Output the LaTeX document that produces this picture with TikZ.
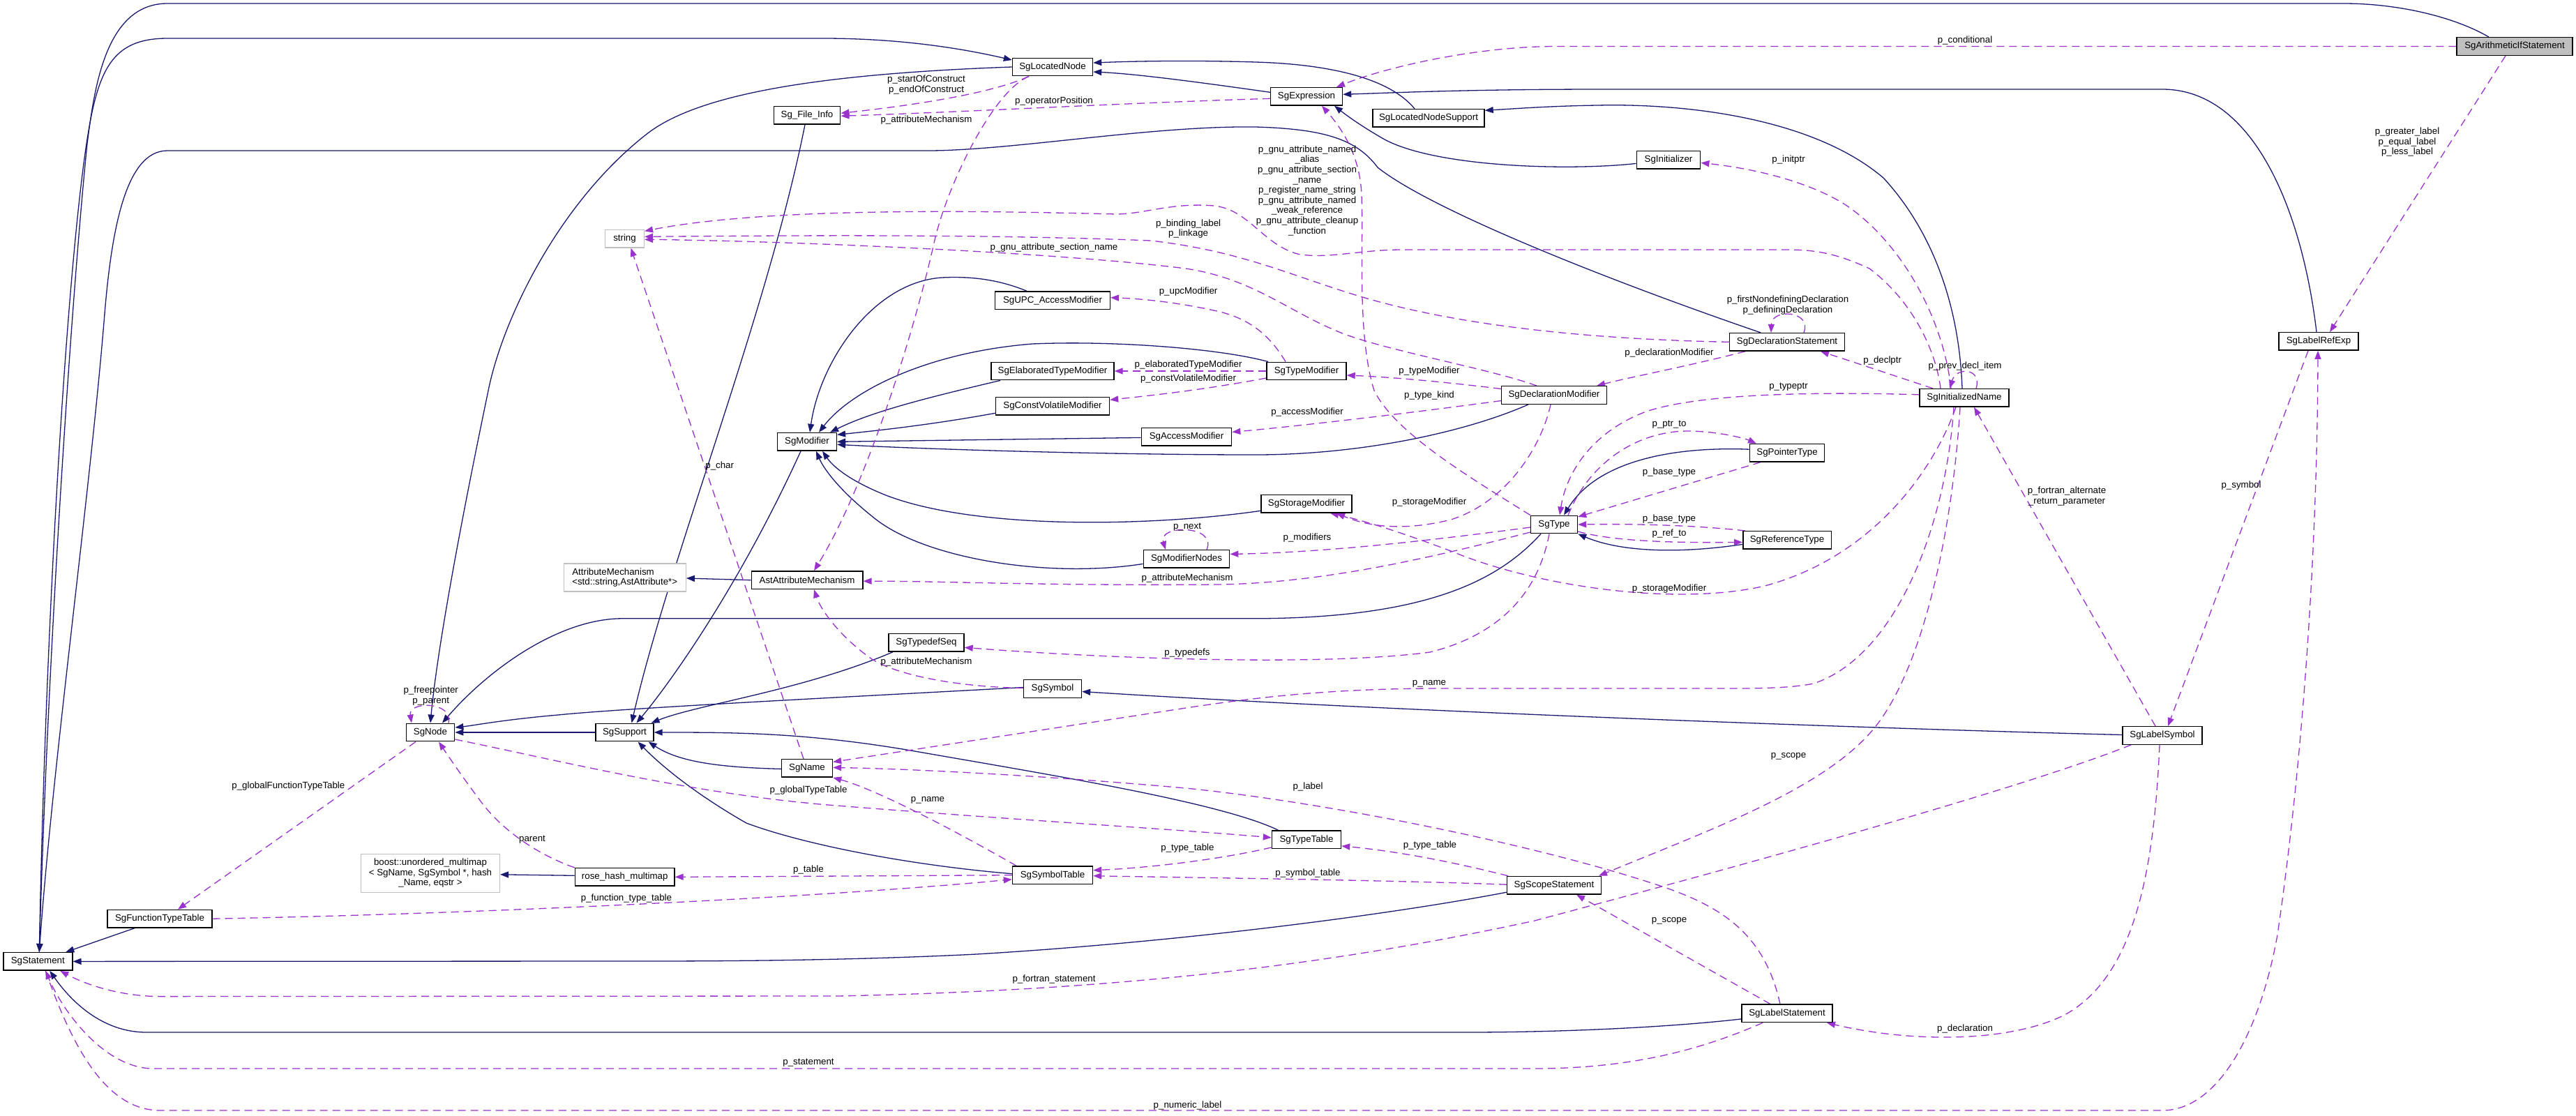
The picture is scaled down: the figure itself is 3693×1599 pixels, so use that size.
\documentclass[tikz,border=0pt]{standalone}
\usepackage{fontspec}
\setmainfont{Liberation Sans}
\usetikzlibrary{arrows.meta,backgrounds}
\definecolor{navyc}{RGB}{25,25,112}
\definecolor{orchidc}{RGB}{154,50,205}
\newcommand\dfont{\fontsize{13.3}{14.6}\selectfont}
\tikzset{
  cls/.style={draw=black, line width=1.4pt, fill=white, font=\dfont, minimum height=25.5pt, inner xsep=3pt, inner ysep=1pt},
  extcls/.style={cls, draw=gray!50},
  inh/.style={draw=navyc, line width=1.3pt, -{Triangle[length=12pt,width=9pt]}},
  uses/.style={draw=orchidc, line width=1.3pt, dash pattern=on 11pt off 7pt, -{Triangle[length=12pt,width=9pt]}},
  lbl/.style={font=\dfont, inner sep=0pt, align=center},
}
\begin{document}
\begin{tikzpicture}[x=1pt,y=-1pt]
\useasboundingbox (0,0) rectangle (3693,1599);
% ---------------- nodes ----------------
\node[cls, fill=gray!50, minimum width=166pt] (AIS) at (3605,66.5) {SgArithmeticIfStatement};
\node[cls, minimum width=115pt] (LN) at (1509,96) {SgLocatedNode};
\node[cls, minimum width=95.5pt] (FI) at (1157,165.3) {Sg\_File\_Info};
\node[cls, minimum width=103pt] (EX) at (1873,138.3) {SgExpression};
\node[cls, minimum width=160pt] (LNS) at (2048,169.3) {SgLocatedNodeSupport};
\node[cls, minimum width=91.4pt] (INIT) at (2392,229.4) {SgInitializer};
\node[extcls, minimum width=55.7pt] (STR) at (895.5,342.3) {string};
\node[cls, minimum width=164.8pt] (UPC) at (1509,430.7) {SgUPC\_AccessModifier};
\node[cls, minimum width=165pt] (DS) at (2562,490.3) {SgDeclarationStatement};
\node[cls, minimum width=114pt] (LRE) at (3324,489.4) {SgLabelRefExp};
\node[cls, minimum width=176pt] (ETM) at (1509,532) {SgElaboratedTypeModifier};
\node[cls, minimum width=114pt] (TM) at (1873,532) {SgTypeModifier};
\node[cls, minimum width=150.7pt] (DM) at (2228,566.5) {SgDeclarationModifier};
\node[cls, minimum width=128pt] (IN) at (2816,570.3) {SgInitializedName};
\node[cls, minimum width=163pt] (CVM) at (1509,582.3) {SgConstVolatileModifier};
\node[cls, minimum width=129.3pt] (AM) at (1701,626.4) {SgAccessModifier};
\node[cls, minimum width=84.8pt] (MOD) at (1157,633.3) {SgModifier};
\node[cls, minimum width=107.4pt] (PT) at (2562,649.2) {SgPointerType};
\node[cls, minimum width=130pt] (SM) at (1873,722.3) {SgStorageModifier};
\node[cls, minimum width=67pt] (TY) at (2228,752) {SgType};
\node[cls, minimum width=126.4pt] (RT) at (2562,774.4) {SgReferenceType};
\node[cls, minimum width=123.4pt] (MN) at (1701,801.4) {SgModifierNodes};
\node[extcls, minimum width=175pt, minimum height=40pt, align=left] (ATM) at (895.7,828) {AttributeMechanism\\<std::string,AstAttribute*>};
\node[cls, minimum width=159.6pt] (AAM) at (1157,831.7) {AstAttributeMechanism};
\node[cls, minimum width=108pt] (TDS) at (1328,921.3) {SgTypedefSeq};
\node[cls, minimum width=83pt] (SYM) at (1509,987.5) {SgSymbol};
\node[cls, minimum width=69.4pt] (NODE) at (617,1050) {SgNode};
\node[cls, minimum width=83pt] (SUP) at (895.5,1050) {SgSupport};
\node[cls, minimum width=114pt] (LS) at (3100,1054.5) {SgLabelSymbol};
\node[cls, minimum width=73pt] (NAME) at (1157,1101.4) {SgName};
\node[cls, minimum width=99pt] (TT) at (1873,1203.9) {SgTypeTable};
\node[extcls, minimum width=198.7pt, minimum height=55pt, align=center] (BOOST) at (617,1251.8) {boost::unordered\_multimap\\< SgName, SgSymbol *, hash\\\_Name, eqstr >};
\node[cls, minimum width=115pt] (SYMT) at (1509,1254.7) {SgSymbolTable};
\node[cls, minimum width=142.6pt] (RH) at (895.7,1257.3) {rose\_hash\_multimap};
\node[cls, minimum width=135pt] (SS) at (2228,1269.2) {SgScopeStatement};
\node[cls, minimum width=150pt] (FTT) at (229,1317.2) {SgFunctionTypeTable};
\node[cls, minimum width=99pt] (ST) at (54.3,1378.4) {SgStatement};
\node[cls, minimum width=130pt] (LST) at (2562,1452.9) {SgLabelStatement};
% ---------------- edges ----------------
\begin{scope}[on background layer]
\fill[white] (0,0) rectangle (3693,1599);
% inheritance
\draw[inh] ([xshift=-37pt]AIS.north) .. controls (3520,25) and (3440,5) .. (3360,5) -- (240,5) .. controls (150,5) and (135,130) .. (125,206) .. controls (105,400) and (70,900) .. ([xshift=2pt]ST.north);
\draw[inh] ([xshift=2pt]ST.north) .. controls (65,900) and (95,400) .. (124,206) .. controls (140,100) and (160,55) .. (240,55) -- (1180,55) .. controls (1300,55) and (1390,72) .. ([yshift=10pt]LN.west);
\draw[inh] ([xshift=-38pt]DS.north) .. controls (2300,400) and (2050,300) .. (1975,240) .. controls (1945,200) and (1900,185) .. (1800,182) .. controls (1650,180) and (1450,216) .. (1330,216) -- (240,216) .. controls (180,216) and (160,330) .. (150,450) .. controls (130,700) and (75,1100) .. ([xshift=2pt]ST.north);
\draw[inh] (LN.west) .. controls (1200,105) and (1010,130) .. (930,190) .. controls (800,290) and (720,460) .. (700,560) .. controls (650,800) and (625,950) .. (NODE.north);
\draw[inh] ([yshift=6pt]EX.west) .. controls (1720,118) and (1630,106) .. ([yshift=-7pt]LN.east);
\draw[inh] ([xshift=-20pt]LNS.north) .. controls (1990,110) and (1900,92) .. (1800,89) .. controls (1700,86) and (1620,88) .. ([yshift=6pt]LN.east);
\draw[inh] ([yshift=-5pt]INIT.west) .. controls (2250,245) and (2060,240) .. (1985,200) .. controls (1950,180) and (1930,165) .. ([xshift=40pt]EX.south);
\draw[inh] ([xshift=-3pt]LRE.north) .. controls (3300,300) and (3230,128) .. (3100,128) -- (2300,128) .. controls (2100,128) and (2000,133) .. ([yshift=3pt]EX.east);
\draw[inh] ([xshift=-3pt]IN.north) .. controls (2808,420) and (2760,320) .. (2700,255) .. controls (2600,170) and (2420,148) .. (2290,151) .. controls (2220,152) and (2170,156) .. ([yshift=11pt]LNS.east);
\draw[inh] ([xshift=-3pt]FI.south) .. controls (1100,450) and (960,800) .. ([xshift=10pt]SUP.north);
\draw[inh] ([xshift=-9pt]MOD.south) .. controls (1060,840) and (960,980) .. ([xshift=17pt]SUP.north);
\draw[inh] ([xshift=-48pt]TDS.south) .. controls (1150,990) and (1000,1010) .. ([xshift=38pt]SUP.north);
\draw[inh] ([xshift=-37pt]UPC.north) .. controls (1430,400) and (1390,396) .. (1350,398) .. controls (1250,405) and (1175,520) .. ([xshift=4pt]MOD.north);
\draw[inh] ([xshift=-55pt]TM.north) .. controls (1750,500) and (1600,488) .. (1480,493) .. controls (1330,505) and (1220,560) .. ([xshift=17pt]MOD.north);
\draw[inh] ([xshift=-75pt]ETM.south) .. controls (1330,570) and (1250,590) .. ([xshift=33pt]MOD.north);
\draw[inh] ([yshift=-10pt]CVM.west) .. controls (1330,610) and (1250,618) .. ([yshift=10pt]MOD.east);
\draw[inh] ([yshift=-1pt]AM.west) -- (MOD.east);
\draw[inh] ([xshift=-37pt]DM.south) .. controls (2100,620) and (1950,652) .. (1800,652) .. controls (1600,652) and (1350,645) .. ([yshift=-4pt]MOD.east);
\draw[inh] ([yshift=-10pt]SM.west) .. controls (1650,755) and (1400,760) .. (1270,710) .. controls (1220,690) and (1195,670) .. ([xshift=22pt]MOD.south);
\draw[inh] ([yshift=-7pt]MN.west) .. controls (1500,830) and (1320,800) .. (1250,740) .. controls (1200,700) and (1180,670) .. ([xshift=13pt]MOD.south);
\draw[inh] (AAM.west) -- ([yshift=-1pt]ATM.east);
\draw[inh] ([xshift=-19pt]TY.south) .. controls (2150,830) and (2050,886) .. (1800,886.8) -- (890,886.8) .. controls (800,888) and (700,960) .. ([xshift=17pt]NODE.north);
\draw[inh] (SUP.west) -- (NODE.east);
\draw[inh] ([yshift=2pt]SYM.west) .. controls (1200,1000) and (900,1015) .. (800,1025) .. controls (720,1032) and (680,1040) .. ([yshift=7pt]NODE.east);
\draw[inh] ([yshift=1pt]LS.west) .. controls (2700,1045) and (2000,1020) .. ([yshift=-4pt]SYM.east);
\draw[inh] ([yshift=-1pt]NAME.west) .. controls (1020,1100) and (970,1090) .. ([xshift=34pt]SUP.south);
\draw[inh] ([yshift=2pt]SYMT.west) .. controls (1300,1240) and (1150,1210) .. (1070,1180) .. controls (1000,1140) and (950,1100) .. ([xshift=19pt]SUP.south);
\draw[inh] ([xshift=-40pt]TT.north) .. controls (1750,1150) and (1500,1110) .. (1300,1075) .. controls (1150,1050) and (1050,1050) .. (SUP.east);
\draw[inh] ([yshift=2pt]RH.west) -- ([yshift=-2pt]BOOST.east);
\draw[inh] ([xshift=-36pt]FTT.south) -- ([xshift=40pt]ST.north);
\draw[inh] ([yshift=-10pt]SS.west) .. controls (2000,1310) and (1700,1350) .. (1400,1368) .. controls (1200,1378) and (1000,1378) .. (900,1378) -- (ST.east);
\draw[inh] ([yshift=-8pt]LST.west) .. controls (2400,1472) and (2250,1480) .. (2100,1480) -- (210,1480) .. controls (150,1480) and (105,1440) .. ([xshift=17pt]ST.south);
\draw[inh] ([yshift=5pt]PT.west) .. controls (2400,640) and (2290,660) .. ([xshift=14pt]TY.north);
\draw[inh] ([yshift=-6pt]RT.west) .. controls (2400,795) and (2320,790) .. (TY.south east);
% usage
\draw[uses] (AIS.west) -- (2230,66.5) .. controls (2120,66.5) and (1990,95) .. ([xshift=43pt]EX.north);
\draw[uses] ([xshift=-13pt]AIS.south) -- ([xshift=16pt]LRE.north);
\draw[uses] ([xshift=-34pt]LN.south) .. controls (1420,135) and (1300,152) .. ([yshift=3pt]FI.east);
\draw[uses] ([yshift=-3pt]EX.west) .. controls (1600,148) and (1400,160) .. ([yshift=-1pt]FI.east);
\draw[uses] ([xshift=-34pt]LN.south) .. controls (1425,130) and (1360,260) .. (1340,344) .. controls (1310,480) and (1240,700) .. ([xshift=10pt]AAM.north);
\draw[uses] ([yshift=-11pt]TY.west) .. controls (2050,800) and (1900,835) .. (1750,838) .. controls (1500,840) and (1350,833) .. ([yshift=-1.5pt]AAM.east);
\draw[uses] ([yshift=1pt]SYM.west) .. controls (1380,985) and (1290,970) .. (1250,945) .. controls (1200,910) and (1175,870) .. ([xshift=10pt]AAM.south);
\draw[uses] ([yshift=-4pt]TY.west) .. controls (2050,775) and (1900,792) .. ([yshift=7pt]MN.east);
\draw[uses] ([xshift=29pt]MN.north) .. controls (1745,752) and (1660,752) .. ([xshift=-30pt]MN.north);
\draw[uses] ([yshift=4.5pt]IN.west) .. controls (2650,563) and (2450,560) .. (2360,590) .. controls (2280,620) and (2245,680) .. ([xshift=8pt]TY.north);
\draw[uses] ([xshift=20pt]TY.north) .. controls (2280,660) and (2350,618) .. (2420,618) .. controls (2460,618) and (2500,628) .. ([xshift=-44pt]PT.north);
\draw[uses] ([xshift=-38pt]PT.south) -- ([yshift=11pt]TY.east);
\draw[uses] ([xshift=-60pt]RT.north) .. controls (2420,752) and (2330,751) .. (TY.east);
\draw[uses] ([yshift=-10pt]TY.east) .. controls (2320,778) and (2420,778) .. ([yshift=-3pt]RT.west);
\draw[uses] ([xshift=-5pt]DM.south) .. controls (2210,640) and (2160,720) .. (2080,745) .. controls (2000,765) and (1950,750) .. ([xshift=43pt]SM.south);
\draw[uses] ([xshift=-12pt]IN.south) .. controls (2770,680) and (2680,800) .. (2530,840) .. controls (2400,870) and (2200,840) .. (2080,790) .. controls (2000,760) and (1950,745) .. ([xshift=34pt]SM.south);
\draw[uses] ([xshift=-60pt]DS.south) .. controls (2420,525) and (2340,540) .. ([xshift=61pt]DM.north);
\draw[uses] ([yshift=9pt]DM.west) .. controls (2050,545) and (1980,540) .. ([yshift=-6pt]TM.east);
\draw[uses] ([yshift=-8pt]DM.west) .. controls (2000,595) and (1850,612) .. ([yshift=7pt]AM.east);
\draw[uses] (TY.north west) .. controls (2100,680) and (2000,620) .. (1970,560) .. controls (1945,480) and (1955,350) .. (1952,280) .. controls (1950,220) and (1920,180) .. ([xshift=22pt]EX.south);
\draw[uses] ([xshift=-30pt]TM.north) .. controls (1820,480) and (1790,455) .. (1740,445) .. controls (1680,432) and (1630,428) .. ([yshift=4pt]UPC.east);
\draw[uses] (TM.west) -- (ETM.east);
\draw[uses] ([yshift=-10pt]TM.west) .. controls (1720,560) and (1640,568) .. ([yshift=9pt]CVM.east);
\draw[uses] ([xshift=-34pt]IN.north) .. controls (2775,500) and (2740,430) .. (2680,385) .. controls (2630,362) and (2600,358) .. (2560,358) -- (2010,358) .. controls (1950,358) and (1900,372) .. (1860,364) .. controls (1810,350) and (1790,300) .. (1740,295) .. controls (1680,290) and (1640,307) .. (1600,307) .. controls (1400,302) and (1100,297) .. ([yshift=11pt]STR.east);
\draw[uses] (DS.west) .. controls (2300,487) and (2100,470) .. (1950,425) .. controls (1850,395) and (1780,360) .. (1650,345) .. controls (1400,335) and (1100,338) .. ([yshift=3pt]STR.east);
\draw[uses] ([xshift=-25pt]DM.north) .. controls (2140,530) and (2000,505) .. (1930,480) .. controls (1850,450) and (1800,400) .. (1700,385) .. controls (1500,360) and (1100,345) .. ([yshift=-1pt]STR.east);
\draw[uses] ([xshift=-19pt]IN.north) .. controls (2785,450) and (2720,340) .. (2640,290) .. controls (2580,255) and (2500,240) .. ([yshift=-4pt]INIT.east);
\draw[uses] ([xshift=-45pt]IN.north) .. controls (2720,540) and (2660,520) .. ([xshift=48pt]DS.south);
\draw[uses] ([xshift=17pt]IN.north) .. controls (2842,528) and (2805,525) .. ([xshift=-21pt]IN.north);
\draw[uses] ([xshift=24pt]DS.north) .. controls (2598,445) and (2540,442) .. ([xshift=-23pt]DS.north);
\draw[uses] ([xshift=-15pt]IN.south) .. controls (2790,750) and (2720,940) .. (2600,980) .. controls (2560,988) and (2500,987) .. (2450,987) -- (2050,987) .. controls (1900,988) and (1800,1000) .. (1700,1015) -- ([yshift=9pt]NAME.east);
\draw[uses] ([xshift=-6pt]IN.south) .. controls (2800,750) and (2760,950) .. (2690,1040) .. controls (2620,1130) and (2450,1190) .. ([xshift=64pt]SS.north);
\draw[uses] ([xshift=-10pt]LS.north) -- ([xshift=14pt]IN.south);
\draw[uses] ([xshift=-15pt]LRE.south) -- ([xshift=8pt]LS.north);
\draw[uses] ([xshift=11pt]ST.south) .. controls (110,1520) and (160,1592) .. (230,1592) -- (3100,1592) .. controls (3180,1592) and (3240,1480) .. (3265,1340) .. controls (3300,1100) and (3322,800) .. ([xshift=-1pt]LRE.south);
\draw[uses] ([xshift=-35pt]LST.south) .. controls (2450,1500) and (2350,1532) .. (2200,1532) -- (220,1532) .. controls (150,1532) and (90,1450) .. ([xshift=11pt]ST.south);
\draw[uses] ([xshift=-45pt]LS.south) .. controls (2900,1130) and (2500,1240) .. (2200,1320) .. controls (1900,1385) and (1600,1420) .. (1200,1428) -- (230,1428.6) .. controls (170,1428.6) and (120,1410) .. ([xshift=32pt]ST.south);
\draw[uses] ([xshift=-4pt]LS.south) .. controls (3088,1250) and (3060,1400) .. (2960,1455) .. controls (2880,1495) and (2740,1495) .. ([xshift=57pt]LST.south);
\draw[uses] ([xshift=-10pt]LST.north) .. controls (2530,1340) and (2470,1300) .. (2380,1270) .. controls (2200,1210) and (1900,1150) .. (1700,1130) .. controls (1500,1112) and (1300,1102) .. ([yshift=1pt]NAME.east);
\draw[uses] ([xshift=-24pt]LST.north) -- ([xshift=32pt]SS.south);
\draw[uses] ([yshift=1pt]SS.west) .. controls (2000,1262) and (1700,1258) .. ([yshift=-1pt]SYMT.east);
\draw[uses] ([xshift=-66pt]SS.north) .. controls (2080,1235) and (2000,1220) .. ([yshift=-9pt]TT.east);
\draw[uses] ([yshift=-11pt]TT.west) .. controls (1750,1232) and (1650,1244) .. ([yshift=7pt]SYMT.east);
\draw[uses] ([xshift=-52pt]SYMT.north) .. controls (1350,1180) and (1250,1130) .. (NAME.south east);
\draw[uses] ([yshift=-10pt]NODE.east) .. controls (800,1090) and (1000,1140) .. (1200,1155) .. controls (1450,1175) and (1700,1190) .. ([yshift=3pt]TT.west);
\draw[uses] ([xshift=-21pt]NODE.south) -- ([xshift=26pt]FTT.north);
\draw[uses] ([xshift=-72pt]RH.north) .. controls (770,1225) and (720,1190) .. (690,1150) .. controls (660,1110) and (640,1080) .. ([xshift=12pt]NODE.south);
\draw[uses] (SYMT.west) -- (RH.east);
\draw[uses] (FTT.east) .. controls (700,1310) and (1200,1285) .. ([yshift=-6pt]SYMT.west);
\draw[uses] ([xshift=-7pt]TY.south) .. controls (2205,850) and (2150,910) .. (2050,935) .. controls (1900,955) and (1600,945) .. ([yshift=-7pt]TDS.east);
\draw[uses] ([xshift=-5pt]NAME.north) -- ([xshift=9pt]STR.south);
\draw[uses] ([xshift=26pt]NODE.north) .. controls (650,1005) and (585,1005) .. ([xshift=-27pt]NODE.north);
\end{scope}
% ---------------- labels ----------------
\node[lbl] (L1) at (2817,58.5) {p\_conditional};
\node[lbl] (L2) at (3451,203.9) {p\_greater\_label\\p\_equal\_label\\p\_less\_label};
\node[lbl] (L3) at (1328,121.6) {p\_startOfConstruct\\p\_endOfConstruct};
\node[lbl] (L4) at (1511,144.6) {p\_operatorPosition};
\node[lbl] (L5) at (1328,172.2) {p\_attributeMechanism};
\node[lbl] (L6) at (1874,273.2) {p\_gnu\_attribute\_named\\\_alias\\p\_gnu\_attribute\_section\\\_name\\p\_register\_name\_string\\p\_gnu\_attribute\_named\\\_weak\_reference\\p\_gnu\_attribute\_cleanup\\\_function};
\node[lbl] (L7) at (2564,229) {p\_initptr};
\node[lbl] (L8) at (1703.6,328) {p\_binding\_label\\p\_linkage};
\node[lbl] (L9) at (1511,354.7) {p\_gnu\_attribute\_section\_name};
\node[lbl] (L10) at (1703.6,418.4) {p\_upcModifier};
\node[lbl] (L11) at (2563,437.8) {p\_firstNondefiningDeclaration\\p\_definingDeclaration};
\node[lbl] (L12) at (2393,506.3) {p\_declarationModifier};
\node[lbl] (L13) at (2698.6,516.6) {p\_declptr};
\node[lbl] (L14) at (2817,525.2) {p\_prev\_decl\_item};
\node[lbl] (L15) at (1703.6,523.4) {p\_elaboratedTypeModifier};
\node[lbl] (L16) at (2049,532) {p\_typeModifier};
\node[lbl] (L17) at (1703.6,543.4) {p\_constVolatileModifier};
\node[lbl] (L18) at (2564,555) {p\_typeptr};
\node[lbl] (L19) at (2049,567.5) {p\_type\_kind};
\node[lbl] (L20) at (1874,590.6) {p\_accessModifier};
\node[lbl] (L21) at (2393,608.9) {p\_ptr\_to};
\node[lbl] (L22) at (1031.7,668) {p\_char};
\node[lbl] (L23) at (2393,676.7) {p\_base\_type};
\node[lbl] (L24) at (2963,711.5) {p\_fortran\_alternate\\\_return\_parameter};
\node[lbl] (L25) at (3213,696.3) {p\_symbol};
\node[lbl] (L26) at (2049,720.4) {p\_storageModifier};
\node[lbl] (L27) at (2393,743.9) {p\_base\_type};
\node[lbl] (L28) at (1702,756) {p\_next};
\node[lbl] (L29) at (2393,765.2) {p\_ref\_to};
\node[lbl] (L30) at (1874,770.7) {p\_modifiers};
\node[lbl] (L31) at (1702,829) {p\_attributeMechanism};
\node[lbl] (L32) at (2393,844.4) {p\_storageModifier};
\node[lbl] (L33) at (1702,936) {p\_typedefs};
\node[lbl] (L34) at (1328,948.8) {p\_attributeMechanism};
\node[lbl] (L35) at (2049,979.8) {p\_name};
\node[lbl] (L36) at (617.7,997.8) {p\_freepointer\\p\_parent};
\node[lbl] (L37) at (2564,1084) {p\_scope};
\node[lbl] (L38) at (413.4,1127.3) {p\_globalFunctionTypeTable};
\node[lbl] (L39) at (1875,1128.4) {p\_label};
\node[lbl] (L40) at (1159,1132.7) {p\_globalTypeTable};
\node[lbl] (L41) at (1330,1147) {p\_name};
\node[lbl] (L42) at (763,1204) {parent};
\node[lbl] (L43) at (2050,1212.5) {p\_type\_table};
\node[lbl] (L44) at (1702.5,1215.7) {p\_type\_table};
\node[lbl] (L45) at (1159,1246.8) {p\_table};
\node[lbl] (L46) at (1875,1251.8) {p\_symbol\_table};
\node[lbl] (L47) at (898,1288.5) {p\_function\_type\_table};
\node[lbl] (L48) at (2393,1320.2) {p\_scope};
\node[lbl] (L49) at (1511,1403.7) {p\_fortran\_statement};
\node[lbl] (L50) at (2817,1475) {p\_declaration};
\node[lbl] (L51) at (1159,1523.8) {p\_statement};
\node[lbl] (L52) at (1702.5,1584.7) {p\_numeric\_label};
\end{tikzpicture}
\end{document}
